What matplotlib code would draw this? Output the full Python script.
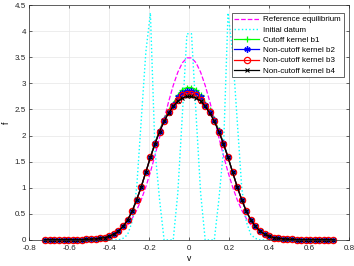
import numpy as np
import matplotlib
matplotlib.use('Agg')
import matplotlib.pyplot as plt

plt.rcParams['font.family'] = ['Liberation Sans', 'DejaVu Sans']

# velocity grid (64 nodes on [-0.72, 0.72])
v = [-0.7200, -0.6971, -0.6743, -0.6514, -0.6286, -0.6057, -0.5829, -0.5600,
     -0.5371, -0.5143, -0.4914, -0.4686, -0.4457, -0.4229, -0.4000, -0.3771,
     -0.3543, -0.3314, -0.3086, -0.2857, -0.2629, -0.2400, -0.2171, -0.1943,
     -0.1714, -0.1486, -0.1257, -0.1029, -0.0800, -0.0571, -0.0343, -0.0114,
     0.0114, 0.0343, 0.0571, 0.0800, 0.1029, 0.1257, 0.1486, 0.1714,
     0.1943, 0.2171, 0.2400, 0.2629, 0.2857, 0.3086, 0.3314, 0.3543,
     0.3771, 0.4000, 0.4229, 0.4457, 0.4686, 0.4914, 0.5143, 0.5371,
     0.5600, 0.5829, 0.6057, 0.6286, 0.6514, 0.6743, 0.6971, 0.7200]

f_eq = [0, 0, 0, 0, 0, 0, 0, 0,
        0.0015, 0.003, 0.006, 0.011, 0.019, 0.032, 0.0525, 0.084,
        0.130, 0.196, 0.287, 0.411, 0.570, 0.772, 1.016, 1.299,
        1.619, 1.960, 2.312, 2.651, 2.959, 3.213, 3.394, 3.488,
        3.488, 3.394, 3.213, 2.959, 2.651, 2.312, 1.960, 1.619,
        1.299, 1.016, 0.772, 0.570, 0.411, 0.287, 0.196, 0.130,
        0.084, 0.0525, 0.032, 0.019, 0.011, 0.006, 0.003, 0.0015,
        0, 0, 0, 0, 0, 0, 0, 0]

f_init = [0, 0, 0, 0, 0, 0, 0, 0,
          0, 0, 0, 0, 0, 0, 0, 0,
          0, 0.03, 0.1, 0.35, 1.0, 2.3, 3.6, 4.35,
          1.72, 0.78, 0, 0, 0, 0.9, 2.4, 3.95,
          3.95, 2.4, 0.9, 0, 0, 0, 0.78, 1.72,
          4.35, 3.6, 2.3, 1.0, 0.35, 0.1, 0.03, 0,
          0, 0, 0, 0, 0, 0, 0, 0,
          0, 0, 0, 0, 0, 0, 0, 0]

f_b1 = [0.004, 0.004, 0.004, 0.004, 0.005, 0.005, 0.006, 0.006,
        0.007, 0.010, 0.014, 0.020, 0.030, 0.045, 0.070, 0.110,
        0.170, 0.260, 0.380, 0.550, 0.770, 1.020, 1.300, 1.590,
        1.860, 2.100, 2.310, 2.480, 2.610, 2.770, 2.880, 2.920,
        2.920, 2.880, 2.770, 2.610, 2.480, 2.310, 2.100, 1.860,
        1.590, 1.300, 1.020, 0.770, 0.550, 0.380, 0.260, 0.170,
        0.110, 0.070, 0.045, 0.030, 0.020, 0.014, 0.010, 0.007,
        0.006, 0.006, 0.005, 0.005, 0.004, 0.004, 0.004, 0.004]

f_b2 = [0.004, 0.004, 0.004, 0.004, 0.005, 0.005, 0.006, 0.006,
        0.007, 0.010, 0.014, 0.020, 0.030, 0.045, 0.070, 0.110,
        0.170, 0.260, 0.380, 0.550, 0.770, 1.020, 1.300, 1.585,
        1.850, 2.085, 2.290, 2.460, 2.590, 2.730, 2.820, 2.860,
        2.860, 2.820, 2.730, 2.590, 2.460, 2.290, 2.085, 1.850,
        1.585, 1.300, 1.020, 0.770, 0.550, 0.380, 0.260, 0.170,
        0.110, 0.070, 0.045, 0.030, 0.020, 0.014, 0.010, 0.007,
        0.006, 0.006, 0.005, 0.005, 0.004, 0.004, 0.004, 0.004]

f_b3 = [0.004, 0.004, 0.004, 0.004, 0.005, 0.005, 0.006, 0.006,
        0.007, 0.010, 0.014, 0.020, 0.030, 0.045, 0.070, 0.110,
        0.170, 0.260, 0.380, 0.550, 0.770, 1.020, 1.300, 1.580,
        1.845, 2.075, 2.280, 2.445, 2.570, 2.690, 2.770, 2.800,
        2.800, 2.770, 2.690, 2.570, 2.445, 2.280, 2.075, 1.845,
        1.580, 1.300, 1.020, 0.770, 0.550, 0.380, 0.260, 0.170,
        0.110, 0.070, 0.045, 0.030, 0.020, 0.014, 0.010, 0.007,
        0.006, 0.006, 0.005, 0.005, 0.004, 0.004, 0.004, 0.004]

f_b4 = [0.004, 0.004, 0.004, 0.004, 0.005, 0.005, 0.006, 0.006,
        0.007, 0.010, 0.014, 0.020, 0.030, 0.045, 0.070, 0.110,
        0.170, 0.260, 0.380, 0.550, 0.770, 1.020, 1.300, 1.580,
        1.840, 2.070, 2.270, 2.430, 2.560, 2.660, 2.720, 2.750,
        2.750, 2.720, 2.660, 2.560, 2.430, 2.270, 2.070, 1.840,
        1.580, 1.300, 1.020, 0.770, 0.550, 0.380, 0.260, 0.170,
        0.110, 0.070, 0.045, 0.030, 0.020, 0.014, 0.010, 0.007,
        0.006, 0.006, 0.005, 0.005, 0.004, 0.004, 0.004, 0.004]

fig = plt.figure(figsize=(3.54, 2.66), dpi=100)
ax = fig.add_axes([0.083, 0.098, 0.903, 0.883])

ax.plot(v, f_eq, '--', color='#ff00ff', lw=0.9, label='Reference equilibrium')
ax.plot(v, f_init, ':', color='#00ffff', lw=1.0, label='Initial datum')
ax.plot(v, f_b1, '-', color='#00ff00', lw=0.9, marker='+', ms=5, mew=0.9,
        label='Cutoff kernel b1', clip_on=False)
ax.plot(v, f_b2, '-', color='#0000ff', lw=0.9, marker=(6, 2, 0), ms=4.5, mew=1.0,
        label='Non-cutoff kernel b2', clip_on=False)
ax.plot(v, f_b3, '-', color='#ff0000', lw=0.9, marker='o', ms=4.5, mew=0.9,
        mfc='none', label='Non-cutoff kernel b3', clip_on=False)
ax.plot(v, f_b4, '-', color='#000000', lw=0.9, marker='x', ms=3.2, mew=0.8,
        label='Non-cutoff kernel b4', clip_on=False)

ax.set_xlim(-0.8, 0.8)
ax.set_ylim(0, 4.5)
ax.set_xticks(np.arange(-0.8, 0.81, 0.2))
ax.set_yticks(np.arange(0, 4.51, 0.5))
ax.set_xticklabels(['-0.8', '-0.6', '-0.4', '-0.2', '0', '0.2', '0.4', '0.6', '0.8'])
ax.set_yticklabels(['0', '0.5', '1', '1.5', '2', '2.5', '3', '3.5', '4', '4.5'])
ax.tick_params(direction='in', length=2.5, width=0.5, labelsize=5.8,
               colors='#262626', top=True, right=True)
ax.tick_params(axis='x', pad=3.5)
ax.tick_params(axis='y', pad=2.5)
ax.grid(True, color='#e6e6e6', lw=0.5)
ax.set_axisbelow(True)
for s in ax.spines.values():
    s.set_linewidth(0.5)
    s.set_color('#262626')
ax.set_xlabel('v', fontsize=6.2, labelpad=1.5)
ax.set_ylabel('f', fontsize=6.2, labelpad=3)

leg = ax.legend(loc='upper right', bbox_to_anchor=(0.984, 0.966),
                fontsize=5.8, frameon=True, fancybox=False,
                edgecolor='#262626', framealpha=1, borderpad=0.35,
                labelspacing=0.32, handlelength=3.1, handletextpad=0.5,
                borderaxespad=0)
leg.get_frame().set_linewidth(0.5)

fig.savefig('out.png', dpi=100)
